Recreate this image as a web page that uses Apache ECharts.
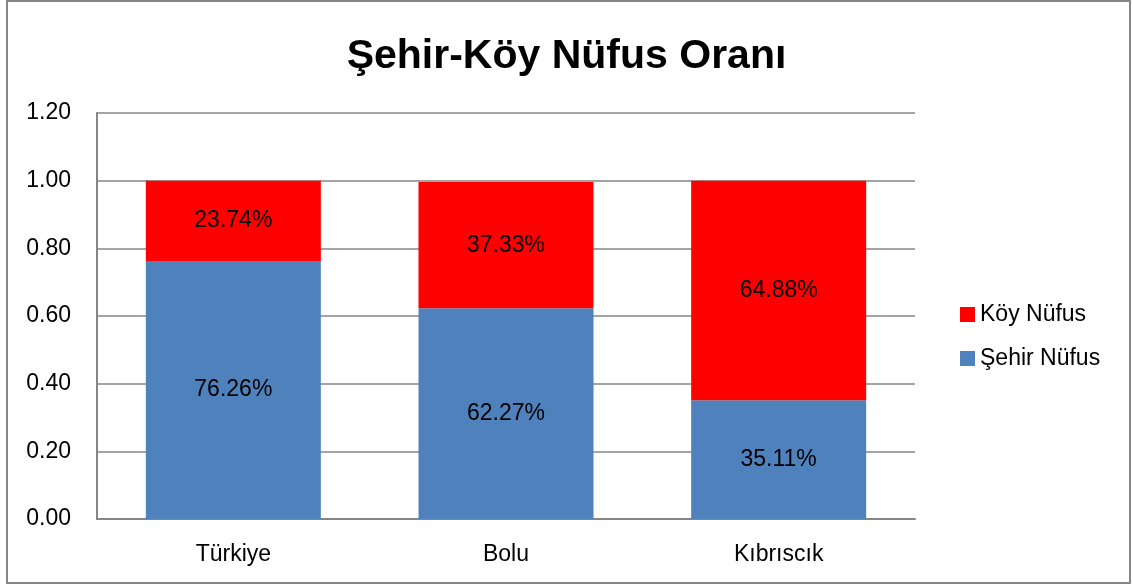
<!DOCTYPE html>
<html>
<head>
<meta charset="utf-8">
<script src="https://cdn.jsdelivr.net/npm/echarts@6/dist/echarts.min.js"></script>
<style>
    html, body { margin: 0; padding: 0; background: #fff; }
    #chart { width: 1133px; height: 585px; }
</style>
</head>
<body>
<div id="chart"></div>
<script>
    var categories = ['Türkiye', 'Bolu', 'Kıbrıscık'];
    var sehirNufus = [0.7626, 0.6227, 0.3511];
    var koyNufus = [0.2374, 0.3733, 0.6488];
    var yTicks = { min: 0, max: 1.2, interval: 0.2 };

    var font = 'Liberation Sans, Arial, sans-serif';
    var chart = echarts.init(document.getElementById('chart'));

    function pctLabel(p) {
        return (p.value * 100).toFixed(2) + '%';
    }

    var option = {
        animation: false,
        backgroundColor: '#fff',
        title: {
            text: 'Şehir-Köy Nüfus Oranı',
            left: 'center',
            top: 31,
            textStyle: { fontFamily: font, fontSize: 41, fontWeight: 'bold', color: '#000' }
        },
        legend: {
            orient: 'vertical',
            left: 955,
            top: 298,
            itemWidth: 15,
            itemHeight: 15,
            itemGap: 21,
            icon: 'rect',
            data: ['Köy Nüfus', 'Şehir Nüfus'],
            textStyle: { fontFamily: font, fontSize: 23, color: '#000' }
        },
        grid: { left: 97, right: 218, top: 113, bottom: 66 },
        xAxis: {
            type: 'category',
            data: categories,
            axisTick: { show: false },
            axisLine: { lineStyle: { color: '#868686', width: 2 } },
            axisLabel: { fontFamily: font, fontSize: 23, color: '#000', margin: 24 }
        },
        yAxis: {
            type: 'value',
            min: yTicks.min,
            max: yTicks.max,
            interval: yTicks.interval,
            axisLine: { show: true, lineStyle: { color: '#868686', width: 2 } },
            axisTick: { show: false },
            splitLine: { lineStyle: { color: '#868686', width: 1.5 } },
            axisLabel: {
                fontFamily: font, fontSize: 23, color: '#000', margin: 26,
                formatter: function (v) { return v.toFixed(2); }
            }
        },
        series: [
            {
                name: 'Şehir Nüfus',
                type: 'bar',
                stack: 'total',
                barWidth: 175,
                data: sehirNufus,
                itemStyle: { color: '#4F81BD' },
                label: { show: true, position: 'inside', formatter: pctLabel,
                    fontFamily: font, fontSize: 23, color: '#000' }
            },
            {
                name: 'Köy Nüfus',
                type: 'bar',
                stack: 'total',
                barWidth: 175,
                data: koyNufus,
                itemStyle: { color: '#FF0000' },
                label: { show: true, position: 'inside', formatter: pctLabel,
                    fontFamily: font, fontSize: 23, color: '#000' }
            }
        ],
        graphic: [{
            type: 'rect',
            shape: { x: 7, y: 1, width: 1123, height: 582 },
            style: { fill: 'none', stroke: '#868686', lineWidth: 2 },
            silent: true
        }]
    };
    chart.setOption(option);
</script>
</body>
</html>
